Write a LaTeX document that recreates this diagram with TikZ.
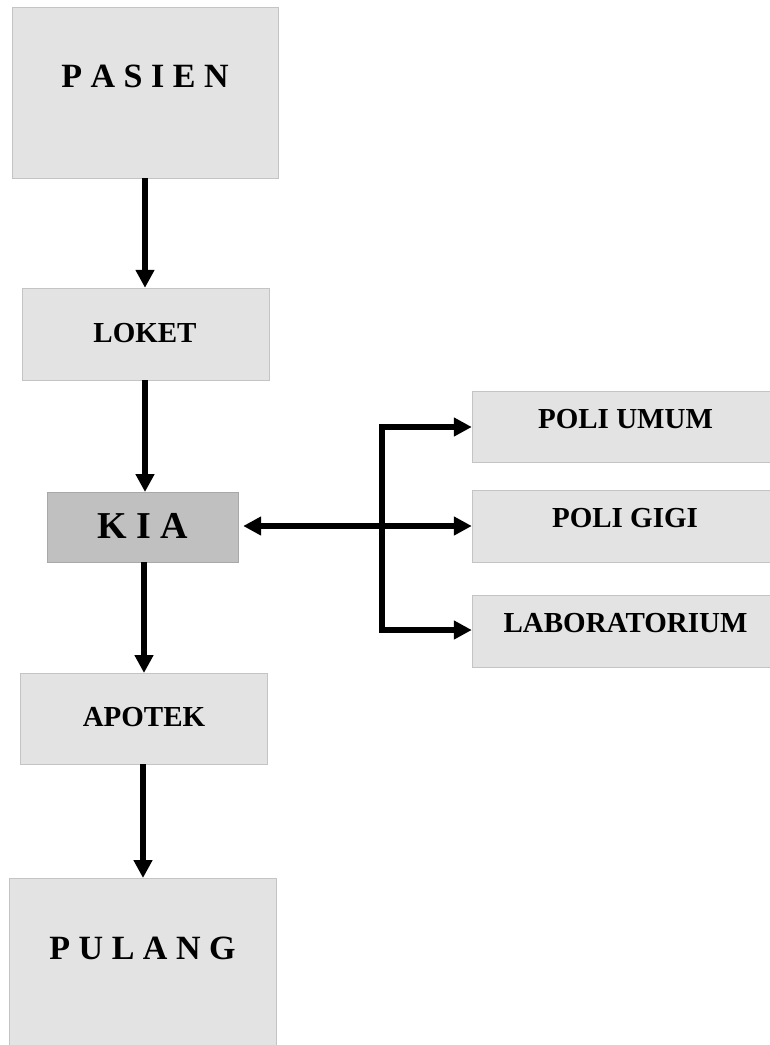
\documentclass[tikz,border=0pt]{standalone}
\usepackage{fontspec}
\setmainfont{Liberation Serif}
\usetikzlibrary{arrows.meta}
\definecolor{boxfill}{HTML}{E3E3E3}
\definecolor{boxline}{HTML}{C4C4C4}
\definecolor{kiafill}{HTML}{C0C0C0}
\definecolor{kialine}{HTML}{A8A8A8}
\tikzset{
  box/.style={draw=boxline, fill=boxfill, line width=1pt},
  kiabox/.style={draw=kialine, fill=kiafill, line width=1pt},
  lbl/.style={anchor=base, inner sep=0pt, font=\bfseries\fontsize{29}{34}\selectfont},
  biglbl/.style={anchor=base, inner sep=0pt, font=\bfseries\fontsize{34}{40}\selectfont},
  tip/.tip={Triangle[length=18pt,width=18pt]},
  arr/.style={line width=5.5pt, -tip, miter limit=10},
  darr/.style={line width=5.5pt, tip-tip, miter limit=10},
}
\begin{document}
\begin{tikzpicture}[x=1pt,y=-1pt]
\fill[white] (0,0) rectangle (770,1045);
\useasboundingbox (0,0) rectangle (770,1045);
% boxes
\path[box] (12,7) rectangle (278,178);
\node[inner sep=0pt, minimum width=266pt, minimum height=171pt] (pasien) at (145,92.5) {};
\path[box] (22,288) rectangle (269,380);
\node[inner sep=0pt, minimum width=247pt, minimum height=92pt] (loket) at (145.5,334) {};
\path[kiabox] (47,492) rectangle (238,562);
\node[inner sep=0pt, minimum width=191pt, minimum height=70pt] (kia) at (142.5,527) {};
\path[box] (20,673) rectangle (267,764);
\node[inner sep=0pt, minimum width=247pt, minimum height=91pt] (apotek) at (143.5,718.5) {};
\path[box] (9,878) rectangle (276,1052);
\node[inner sep=0pt, minimum width=267pt, minimum height=174pt] (pulang) at (142.5,965) {};
\path[box] (472,391) rectangle (774,462);
\node[inner sep=0pt, minimum width=302pt, minimum height=71pt] (umum) at (623,426.5) {};
\path[box] (472,490) rectangle (774,562);
\node[inner sep=0pt, minimum width=302pt, minimum height=72pt] (gigi) at (623,526) {};
\path[box] (472,595) rectangle (774,667);
\node[inner sep=0pt, minimum width=302pt, minimum height=72pt] (lab) at (623,631) {};
% labels
\node[biglbl] (tpasien) at (145,87) {P A S I E N};
\node[lbl] (tloket) at (145,342) {LOKET};
\node[anchor=base, inner sep=0pt, font=\bfseries\fontsize{38}{44}\selectfont] (tkia) at (142.5,538) {K I A};
\node[lbl] (tapotek) at (144,726) {APOTEK};
\node[biglbl] (tpulang) at (142.5,959) {P U L A N G};
\node[lbl] (tumum) at (625.5,428) {POLI UMUM};
\node[lbl] (tgigi) at (625,527) {POLI GIGI};
\node[lbl] (tlab) at (625.5,632) {LABORATORIUM};
% vertical flow
\draw[arr] (pasien.south) -- (pasien.south |- loket.north);
\draw[arr] (145,380) -- (145,492);
\draw[arr] (144,562) -- (144,673);
\draw[arr] (143,764) -- (143,878);
% branches
\coordinate (b1) at (382,427);
\coordinate (b2) at (382,630);
\draw[darr] (umum.west |- b1) -- (b1) -- (b2) -- (lab.west |- b2);
\draw[darr] ([xshift=5pt]kia.east |- gigi.west) -- (gigi.west);
\end{tikzpicture}
\end{document}
